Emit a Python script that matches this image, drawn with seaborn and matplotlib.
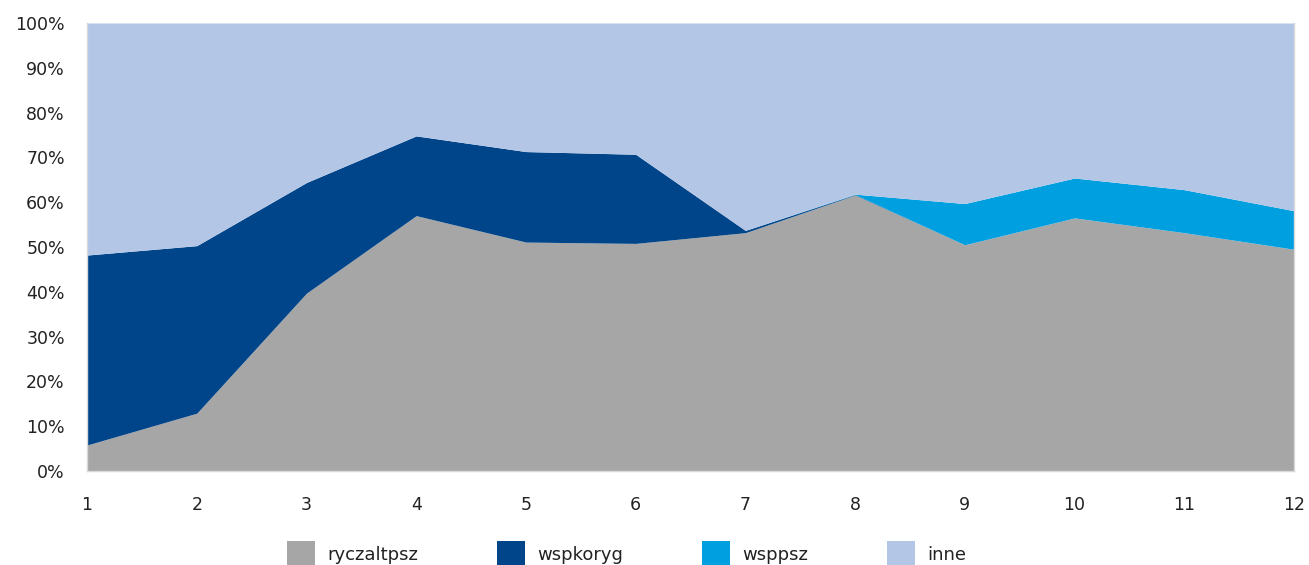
import matplotlib
matplotlib.use("Agg")
import matplotlib.pyplot as plt
from matplotlib.ticker import PercentFormatter
import numpy as np
import seaborn as sns

# Share of each category by period (percent of total)
periods = [1, 2, 3, 4, 5, 6, 7, 8, 9, 10, 11, 12]
ryczaltpsz = [5.8, 12.9, 39.7, 57.0, 51.1, 50.8, 53.2, 61.6, 50.5, 56.5, 53.2, 49.5]
wspkoryg = [42.4, 37.4, 24.7, 17.8, 20.2, 19.9, 0.5, 0.1, 0.0, 0.0, 0.0, 0.0]
wsppsz = [0.0, 0.0, 0.0, 0.0, 0.0, 0.0, 0.0, 0.1, 9.2, 8.9, 9.6, 8.6]
inne = [100 - a - b - c for a, b, c in zip(ryczaltpsz, wspkoryg, wsppsz)]

series_names = ["ryczaltpsz", "wspkoryg", "wsppsz", "inne"]
series_colors = ["#A6A6A6", "#00458A", "#009FE0", "#B3C6E6"]

sns.set_theme(style="white")
plt.rcParams["font.family"] = ["DejaVu Sans"]

fig = plt.figure(figsize=(13.09, 5.65), dpi=100)
ax = fig.add_axes([0.0665, 0.1664, 0.922, 0.7929])

ax.stackplot(periods, ryczaltpsz, wspkoryg, wsppsz, inne,
             labels=series_names, colors=series_colors, linewidth=0)

ax.set_xlim(1, 12)
ax.set_ylim(0, 100)
ax.set_xticks(periods)
ax.set_yticks(np.arange(0, 101, 10))
ax.yaxis.set_major_formatter(PercentFormatter(decimals=0))
ax.tick_params(axis="both", length=0, labelsize=12.5, colors="#222222")
ax.tick_params(axis="x", pad=18)
ax.tick_params(axis="y", pad=16)

for side in ["left", "bottom", "right", "top"]:
    ax.spines[side].set_color("#D9D9D9")
    ax.spines[side].set_linewidth(1.0)
ax.spines["top"].set_visible(False)

leg = ax.legend(loc="lower center", bbox_to_anchor=(0.447, -0.252), ncol=4,
                frameon=False, fontsize=13, handlelength=1.55, handleheight=1.9,
                columnspacing=4.35, handletextpad=0.7)
for t in leg.get_texts():
    t.set_color("#222222")

fig.savefig("out.png", dpi=100, facecolor="white")
